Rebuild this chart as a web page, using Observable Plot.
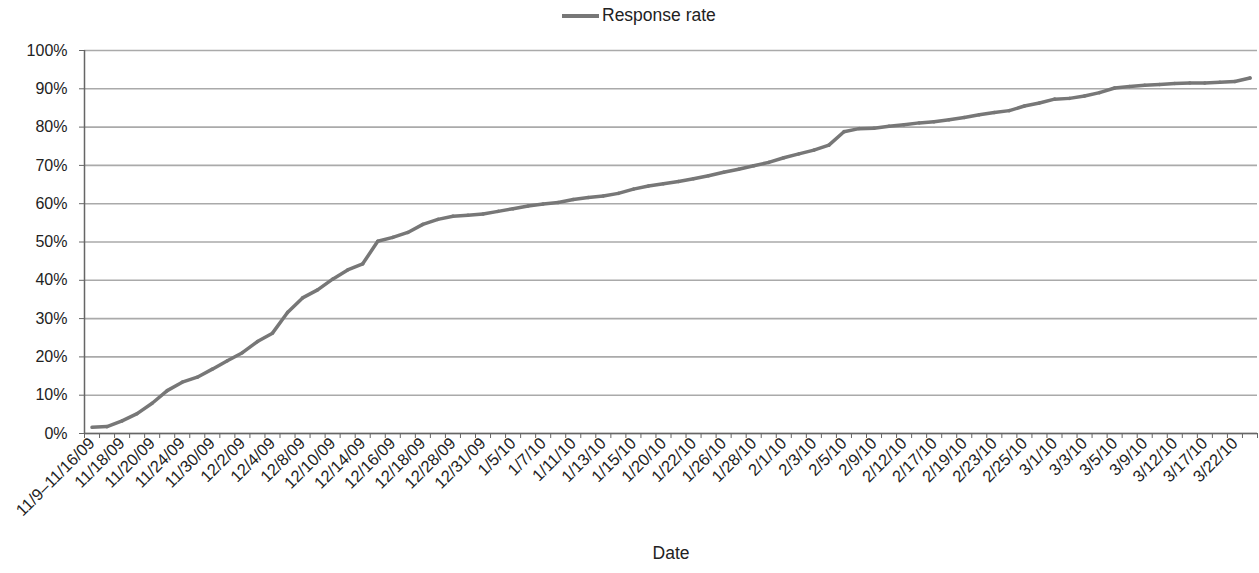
<!DOCTYPE html>
<html>
<head>
<meta charset="utf-8">
<script src="https://cdn.jsdelivr.net/npm/d3@7"></script>
<script src="https://cdn.jsdelivr.net/npm/@observablehq/plot@0.6"></script>
<style>
  html, body { margin: 0; padding: 0; background: #fff; }
  body { width: 1259px; height: 573px; position: relative; font-family: "Liberation Sans", Arial, sans-serif; color: #222; }
  #legend { height: 30px; position: relative; }
  #legend .item { position: absolute; left: 562px; top: 5px; display: flex; align-items: center; font-size: 17.5px; }
  #legend .swatch { width: 37px; height: 4px; background: #777; margin-right: 3px; }
</style>
</head>
<body>
<div id="legend"><div class="item"><span class="swatch"></span><span>Response rate</span></div></div>
<div id="chart"></div>
<script>
const dates = [
  "11/9–11/16/09","11/17/09","11/18/09","11/19/09","11/20/09","11/23/09","11/24/09","11/25/09",
  "11/30/09","12/1/09","12/2/09","12/3/09","12/4/09","12/7/09","12/8/09","12/9/09",
  "12/10/09","12/11/09","12/14/09","12/15/09","12/16/09","12/17/09","12/18/09","12/21/09",
  "12/28/09","12/29/09","12/31/09","1/4/10","1/5/10","1/6/10","1/7/10","1/8/10",
  "1/11/10","1/12/10","1/13/10","1/14/10","1/15/10","1/19/10","1/20/10","1/21/10",
  "1/22/10","1/25/10","1/26/10","1/27/10","1/28/10","1/29/10","2/1/10","2/2/10",
  "2/3/10","2/4/10","2/5/10","2/8/10","2/9/10","2/11/10","2/12/10","2/16/10",
  "2/17/10","2/18/10","2/19/10","2/22/10","2/23/10","2/24/10","2/25/10","2/26/10",
  "3/1/10","3/2/10","3/3/10","3/4/10","3/5/10","3/8/10","3/9/10","3/10/10",
  "3/12/10","3/15/10","3/17/10","3/19/10","3/22/10","3/24/10"
];
const rates = [
  1.6, 1.8, 3.3, 5.2, 7.9, 11.2, 13.4, 14.7,
  16.8, 19.0, 21.1, 24.0, 26.2, 31.6, 35.4, 37.5,
  40.3, 42.7, 44.3, 50.2, 51.2, 52.5, 54.6, 55.9,
  56.7, 57.0, 57.3, 58.0, 58.7, 59.4, 59.9, 60.3,
  61.1, 61.6, 62.0, 62.7, 63.8, 64.6, 65.2, 65.8,
  66.5, 67.3, 68.2, 69.0, 69.9, 70.8, 72.0, 73.0,
  74.0, 75.3, 78.8, 79.6, 79.7, 80.2, 80.6, 81.1,
  81.4, 81.9, 82.5, 83.2, 83.8, 84.3, 85.5, 86.3,
  87.3, 87.5, 88.1, 89.0, 90.2, 90.6, 90.9, 91.1,
  91.4, 91.5, 91.5, 91.7, 91.9, 92.8
];
const yTicks = [0, 10, 20, 30, 40, 50, 60, 70, 80, 90, 100];
const seriesName = "Response rate";
const xTitle = "Date";

const data = dates.map((d, i) => ({i, date: d, rate: rates[i]}));
const idx = d3.range(dates.length);
const bounds = d3.range(dates.length + 1).map(i => i - 0.5);
const labeled = idx.filter(i => i % 2 === 0);

const chart = Plot.plot({
  width: 1259,
  height: 543,
  marginTop: 20,
  marginLeft: 84,
  marginRight: 2,
  marginBottom: 140,
  x: {domain: [-0.5, dates.length - 0.5]},
  y: {domain: [0, 100]},
  style: {fontFamily: "'Liberation Sans', Arial, sans-serif", fontSize: "16px", color: "#222", background: "#fff"},
  marks: [
    Plot.gridY(yTicks, {stroke: "#aaa", strokeOpacity: 1, strokeWidth: 1.6}),
    Plot.axisY(yTicks, {tickFormat: d => d + "%", tickSize: 5, tickPadding: 12, label: null, stroke: "#666", fontSize: 16}),
    Plot.axisX(bounds, {tickSize: 5, tickFormat: () => "", label: null, stroke: "#666"}),
    Plot.axisX(labeled, {tickSize: 0, tickPadding: 7, tickRotate: -45, tickFormat: i => dates[i], fontSize: 16.5,
      label: xTitle, labelAnchor: "center", labelOffset: 125, labelArrow: false}),
    Plot.ruleX([-0.5], {y1: 0, y2: 100, stroke: "#666", strokeWidth: 1.5}),
    Plot.ruleY([0], {stroke: "#666", strokeWidth: 1.5}),
    Plot.lineY(data, {x: "i", y: "rate", stroke: "#777", strokeWidth: 3.5, title: d => `${d.date}: ${d.rate}%`})
  ]
});
document.getElementById("chart").append(chart);
// Enlarge the axis title slightly to match reference
chart.querySelectorAll("text").forEach(t => { if (t.textContent === xTitle) t.setAttribute("font-size", 17.5); });
</script>
</body>
</html>
